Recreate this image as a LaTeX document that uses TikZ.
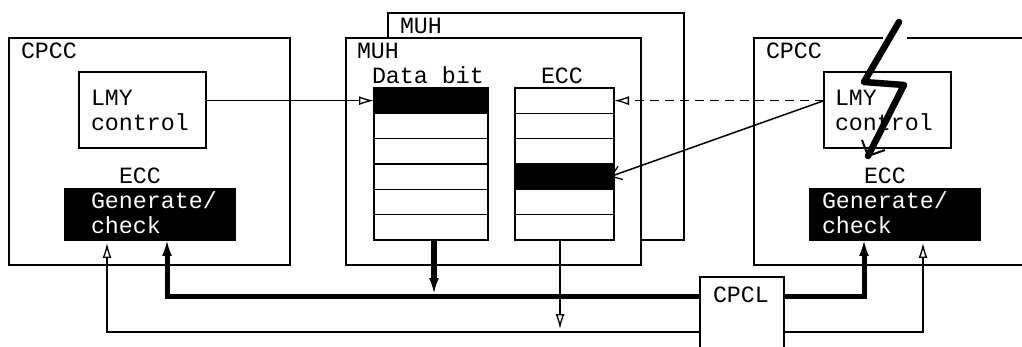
\documentclass[tikz,border=0pt]{standalone}
\usepackage{fontspec}
\setmainfont{Liberation Mono}
\usetikzlibrary{arrows.meta,calc}
\tikzset{
  x=1pt,y=-1pt,
  line width=1.5pt,
  box/.style={draw=black,line width=1.5pt,fill=white,rectangle,anchor=north west,inner sep=0pt,outer sep=0pt},
  cell/.style={box,minimum height=25.3pt},
  blk/.style={fill=black},
  lbl/.style={anchor=base west,inner sep=0pt,outer sep=0pt,font=\fontsize{23.3pt}{24pt}\selectfont,text=black},
  wlbl/.style={lbl,text=white},
  thin wire/.style={draw=black,line width=1.5pt,-{Latex[open,length=15pt,width=9pt,line width=1.3pt]}},
  thick wire/.style={draw=black,line width=5pt,line join=miter},
  thick tip/.style={draw=black,line width=1.5pt,-{Latex[length=15pt,width=10pt,fill=black]}},
  plain wire/.style={draw=black,line width=1.5pt},
  dash wire/.style={draw=black,line width=1.5pt,dash pattern=on 9pt off 6pt,-{Latex[open,length=15pt,width=9pt,line width=1.3pt,sep=0pt]}},
  bolt/.style={draw=black,line width=6.5pt,line cap=round,line join=round},
}
\begin{document}
\begin{tikzpicture}
\useasboundingbox (0,0) rectangle (1022,347);
\clip (0,0) rectangle (1022,347);
% left CPCC
\node[box,minimum width=281pt,minimum height=227pt] (cpccL) at (9,38) {};
\node[box,minimum width=127pt,minimum height=76pt] (lmyL) at (79,72) {};
\node[box,blk,minimum width=170pt,minimum height=51pt] (genL) at (65,189) {};
\node[lbl] (tCpccL) at (21,59) {CPCC};
\node[lbl] (tLmyL) at (91,106) {LMY};
\node[lbl] (tCtlL) at (91,131) {control};
\node[lbl] (tEccL) at (119,184) {ECC};
\node[wlbl] (tGenL) at (91,209) {Generate/};
\node[wlbl] (tChkL) at (91,234) {check};
% MUH boxes
\node[box,minimum width=296pt,minimum height=227pt] (muhB) at (388,13) {};
\node[lbl] (tMuhB) at (400,34) {MUH};
\node[box,minimum width=295pt,minimum height=227pt] (muhF) at (346,38) {};
\node[lbl] (tMuhF) at (357,59) {MUH};
\node[lbl] (tData) at (372,84) {Data bit};
\node[lbl] (tEccM) at (541,84) {ECC};
% data stack
\node[cell,blk,minimum width=114pt] (d1) at (374,88) {};
\node[cell,minimum width=114pt] (d2) at (374,113.3) {};
\node[cell,minimum width=114pt] (d3) at (374,138.6) {};
\node[cell,minimum width=114pt] (d4) at (374,164) {};
\node[cell,minimum width=114pt] (d5) at (374,189.3) {};
\node[cell,minimum width=114pt] (d6) at (374,214.7) {};
% ecc stack
\node[cell,minimum width=99pt] (e1) at (515,88) {};
\node[cell,minimum width=99pt] (e2) at (515,113.3) {};
\node[cell,minimum width=99pt] (e3) at (515,138.6) {};
\node[cell,blk,minimum width=99pt] (e4) at (515,164) {};
\node[cell,minimum width=99pt] (e5) at (515,189.3) {};
\node[cell,minimum width=99pt] (e6) at (515,214.7) {};
% right CPCC
\node[box,minimum width=290pt,minimum height=227pt] (cpccR) at (754,38) {};
\node[box,minimum width=127pt,minimum height=76pt] (lmyR) at (824,72) {};
\node[box,blk,minimum width=170pt,minimum height=51pt] (genR) at (810,189) {};
\node[lbl] (tCpccR) at (766,59) {CPCC};
\node[lbl] (tLmyR) at (835,106) {LMY};
\node[lbl] (tCtlR) at (835,131) {control};
\node[lbl] (tEccR) at (864,184) {ECC};
\node[wlbl] (tGenR) at (822,209) {Generate/};
\node[wlbl] (tChkR) at (822,234) {check};
% CPCL
\node[box,minimum width=84pt,minimum height=90pt] (cpcl) at (700,277) {};
\node[lbl] (tCpcl) at (713,302) {CPCL};
% bus corner coordinates
\coordinate (busY) at (0,296);
\coordinate (wireY) at (0,332);
\coordinate (xThickL) at (167,0);
\coordinate (xThinL) at (107,0);
\coordinate (xThickR) at (864,0);
\coordinate (xThinR) at (923,0);
\coordinate (xData) at (434,0);
\coordinate (xEcc) at (560,0);
\coordinate (tipD) at (434,293);
\coordinate (tipE) at (560,329);
% connectors
\draw[thin wire] (lmyL.east |- d1.west) -- (d1.west);
\draw[dash wire] (lmyR.west |- e1.east) -- (e1.east);
\draw[plain wire,-{Straight Barb[length=10pt,width=14pt,line width=1.3pt]}] (lmyR.west |- e1.east) -- ([xshift=-4pt]e4.east);
% thick bus
\draw[thick wire] ([yshift=-16pt]xThickL |- genL.south) -- (xThickL |- busY) -- (cpcl.west |- busY);
\draw[thick wire] (cpcl.east |- busY) -- (xThickR |- busY) -- ([yshift=-16pt]xThickR |- genR.south);
\draw[thick tip] ([yshift=-30pt]xThickL |- genL.south) -- ([yshift=-1pt]xThickL |- genL.south);
\draw[thick tip] ([yshift=-30pt]xThickR |- genR.south) -- ([yshift=-1pt]xThickR |- genR.south);
% thin bus
\draw[thin wire] (cpcl.west |- wireY) -- (xThinL |- wireY) -- ([yshift=-3pt]xThinL |- genL.south);
\draw[thin wire] (cpcl.east |- wireY) -- (xThinR |- wireY) -- ([yshift=-3pt]xThinR |- genR.south);
% memory outputs
\draw[thick wire,line width=6pt] (xData |- d6.south) -- ([yshift=13pt]tipD);
\draw[thick tip] ([yshift=20pt]tipD) -- (tipD);
\draw[thin wire] (xEcc |- e6.south) -- (tipE);
% lightning
\coordinate (b1) at (899,22);
\coordinate (b2) at (864,82);
\coordinate (b3) at (904,85);
\coordinate (b4) at (868,156);
\coordinate (b5) at (862,140);
\coordinate (b6) at (885,150);
\draw[white,line width=2pt] (883,38) -- (907,38);
\draw[bolt] (b1) -- (b2) -- (b3) -- (b4);
\draw[draw=black,line width=2pt] (b5) -- (b4) -- (b6);
\end{tikzpicture}
\end{document}
